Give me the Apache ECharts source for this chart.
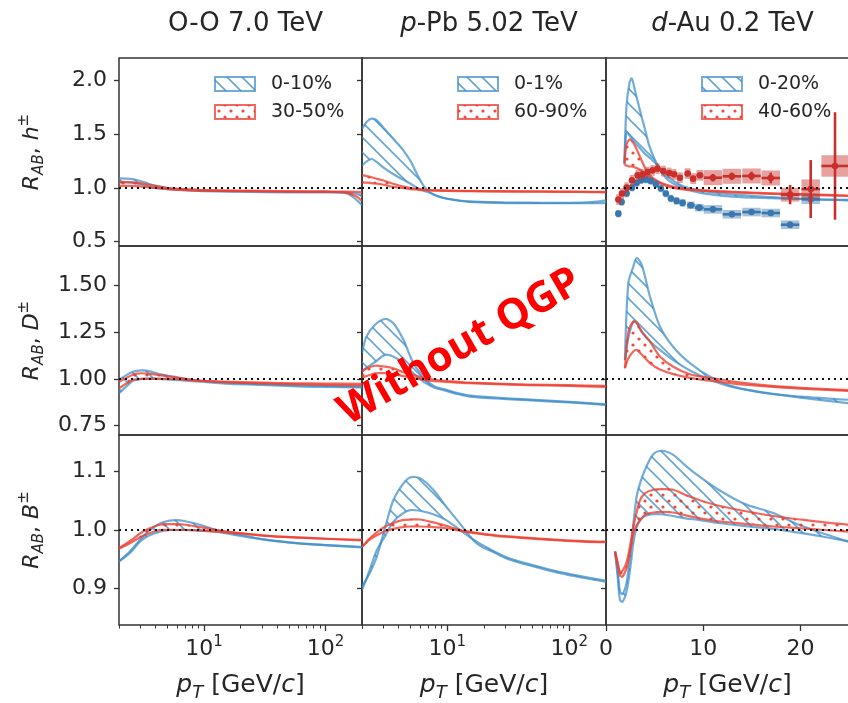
<!DOCTYPE html>
<html><head><meta charset="utf-8">
<script src="https://cdn.jsdelivr.net/npm/echarts@6/dist/echarts.min.js"></script>
<style>html,body{margin:0;padding:0;background:#fff}#c{width:848px;height:703px}</style>
</head><body><div id="c"></div>
<script>
// ---------------- DATA ----------------
const titles = ['{n|O-O 7.0 TeV}', '{i|p}{n|-Pb 5.02 TeV}', '{i|d}{n|-Au 0.2 TeV}'];
const legendBlue = ['0-10%', '0-1%', '0-20%'];
const legendRed = ['30-50%', '60-90%', '40-60%'];
const yTicksH = [0.5, 1.0, 1.5, 2.0];
const yTicksD = [0.75, 1.0, 1.25, 1.5];
const yTicksB = [0.9, 1.0, 1.1];
const xTicksLog = [10, 100];
const xMinorLog = [2, 3, 4, 5, 6, 7, 8, 9, 20, 30, 40, 50, 60, 70, 80, 90, 200];
const xTicksLin = [0, 10, 20];

// Row 1: h±
const ooH_pt = [2, 2.5, 3, 3.5, 4, 5, 7, 10, 20, 50, 100, 150, 180, 200];
const ooH_blueHi = [1.09, 1.085, 1.065, 1.04, 1.02, 1.0, 0.985, 0.975, 0.97, 0.965, 0.963, 0.96, 0.945, 0.93];
const ooH_blueLo = [1.05, 1.05, 1.035, 1.015, 1.0, 0.99, 0.98, 0.97, 0.965, 0.96, 0.958, 0.95, 0.89, 0.84];
const ooH_redHi = [1.06, 1.055, 1.045, 1.03, 1.02, 1.0, 0.99, 0.98, 0.975, 0.97, 0.968, 0.966, 0.963, 0.96];
const ooH_redLo = [1.02, 1.02, 1.015, 1.005, 1.0, 0.99, 0.98, 0.975, 0.97, 0.965, 0.963, 0.955, 0.92, 0.88];

const ppbH_pt = [2, 2.2, 2.4, 2.65, 3, 3.6, 4.3, 5, 5.7, 6.4, 7.2, 8.5, 10, 15, 30, 60, 100, 150, 200];
const ppbH_blueHi = [1.55, 1.62, 1.645, 1.63, 1.56, 1.46, 1.36, 1.25, 1.12, 1.02, 0.96, 0.92, 0.9, 0.875, 0.865, 0.862, 0.862, 0.868, 0.885];
const ppbH_blueLo = [1.21, 1.25, 1.27, 1.24, 1.19, 1.13, 1.08, 1.04, 1.0, 0.975, 0.955, 0.92, 0.9, 0.87, 0.86, 0.858, 0.858, 0.858, 0.86];
const ppbH_redHi = [1.12, 1.11, 1.10, 1.085, 1.07, 1.04, 1.015, 1.0, 0.99, 0.985, 0.98, 0.978, 0.976, 0.973, 0.97, 0.968, 0.966, 0.965, 0.963];
const ppbH_redLo = [1.05, 1.05, 1.045, 1.04, 1.03, 1.01, 1.0, 0.99, 0.985, 0.98, 0.977, 0.975, 0.973, 0.97, 0.967, 0.965, 0.963, 0.962, 0.96];

const dauH_pt = [1.9, 2.1, 2.4, 2.65, 3.0, 3.5, 4.0, 4.5, 5.2, 6.2, 7.6, 9.7, 13, 17, 21, 25];
const dauH_blueHi = [1.24, 1.75, 1.97, 2.02, 1.90, 1.72, 1.55, 1.38, 1.23, 1.09, 1.01, 0.955, 0.92, 0.905, 0.895, 0.89];
const dauH_blueLo = [1.22, 1.52, 1.49, 1.46, 1.42, 1.37, 1.32, 1.28, 1.22, 1.12, 1.03, 0.975, 0.94, 0.915, 0.895, 0.885];
const dauH_redHi = [1.22, 1.40, 1.45, 1.44, 1.39, 1.29, 1.19, 1.12, 1.07, 1.03, 1.0, 0.98, 0.965, 0.95, 0.94, 0.93];
const dauH_redLo = [1.21, 1.21, 1.20, 1.20, 1.19, 1.17, 1.13, 1.10, 1.06, 1.02, 0.99, 0.975, 0.96, 0.945, 0.935, 0.925];

// Row 2: D±
const ooD_pt = [2, 2.3, 2.6, 2.8, 3.1, 3.6, 4.3, 5.6, 7, 9.3, 15, 30, 60, 100, 200];
const ooD_blueHi = [0.995, 1.02, 1.038, 1.043, 1.045, 1.04, 1.025, 1.012, 1.0, 0.99, 0.98, 0.972, 0.965, 0.962, 0.958];
const ooD_blueLo = [0.923, 0.96, 0.99, 0.995, 1.0, 1.003, 1.0, 0.995, 0.99, 0.985, 0.975, 0.968, 0.96, 0.957, 0.955];
const ooD_redHi = [0.985, 1.005, 1.022, 1.028, 1.03, 1.027, 1.02, 1.01, 1.0, 0.99, 0.985, 0.98, 0.976, 0.975, 0.973];
const ooD_redLo = [0.95, 0.975, 0.995, 0.998, 1.0, 1.0, 1.0, 1.0, 0.995, 0.99, 0.982, 0.976, 0.971, 0.968, 0.965];

const ppbD_pt = [2, 2.18, 2.56, 3.09, 3.6, 4.37, 5.26, 6.36, 7.2, 8.1, 9.3, 12, 15.3, 25, 45, 100, 200];
const ppbD_blueHi = [1.138, 1.227, 1.289, 1.32, 1.298, 1.209, 1.084, 1.012, 0.977, 0.955, 0.945, 0.925, 0.91, 0.9, 0.89, 0.877, 0.864];
const ppbD_blueLo = [1.039, 1.06, 1.09, 1.128, 1.12, 1.084, 1.03, 0.985, 0.965, 0.95, 0.94, 0.92, 0.905, 0.895, 0.886, 0.874, 0.861];
const ppbD_redHi = [1.039, 1.055, 1.07, 1.065, 1.057, 1.035, 1.021, 1.005, 1.0, 0.995, 0.99, 0.985, 0.98, 0.975, 0.97, 0.966, 0.962];
const ppbD_redLo = [1.004, 1.015, 1.03, 1.03, 1.025, 1.015, 1.005, 0.995, 0.99, 0.987, 0.985, 0.98, 0.977, 0.972, 0.967, 0.962, 0.957];

const dauD_pt = [1.95, 2.3, 2.81, 3.15, 3.67, 4.52, 5.55, 6.92, 8.63, 10.7, 13.1, 16.5, 20, 25];
const dauD_blueHi = [1.10, 1.513, 1.60, 1.646, 1.61, 1.44, 1.28, 1.17, 1.084, 1.012, 0.959, 0.923, 0.905, 0.888];
const dauD_blueLo = [1.10, 1.22, 1.305, 1.30, 1.25, 1.20, 1.155, 1.10, 1.045, 0.995, 0.955, 0.925, 0.90, 0.87];
const dauD_redHi = [1.057, 1.25, 1.307, 1.30, 1.255, 1.20, 1.12, 1.065, 1.025, 1.005, 0.985, 0.965, 0.952, 0.94];
const dauD_redLo = [1.057, 1.11, 1.146, 1.155, 1.13, 1.084, 1.05, 1.025, 1.005, 0.99, 0.975, 0.96, 0.948, 0.935];

// Row 3: B±
const ooB_pt = [2, 2.5, 2.97, 3.5, 4.34, 5.2, 5.96, 7, 9.3, 12.7, 17.5, 33, 61, 100, 200];
const ooB_blueHi = [0.946, 0.965, 0.983, 0.998, 1.011, 1.016, 1.017, 1.015, 1.009, 1.0, 0.994, 0.983, 0.977, 0.974, 0.970];
const ooB_blueLo = [0.946, 0.962, 0.98, 0.99, 0.997, 1.0, 1.0, 1.0, 0.999, 0.997, 0.992, 0.983, 0.977, 0.974, 0.971];
const ooB_redHi = [0.969, 0.982, 0.994, 1.002, 1.009, 1.01, 1.01, 1.009, 1.005, 1.0, 0.996, 0.99, 0.987, 0.985, 0.983];
const ooB_redLo = [0.968, 0.978, 0.987, 0.994, 1.0, 1.0, 1.0, 1.0, 0.999, 0.997, 0.995, 0.99, 0.987, 0.985, 0.982];

const ppbB_pt = [2, 2.3, 2.64, 3.1, 3.61, 4.3, 4.95, 5.97, 7.68, 9.8, 12.7, 17.4, 25, 32.6, 50, 84, 130, 200];
const ppbB_blueHi = [0.903, 0.925, 0.954, 1.005, 1.051, 1.078, 1.090, 1.089, 1.069, 1.04, 1.011, 0.977, 0.96, 0.949, 0.938, 0.926, 0.918, 0.911];
const ppbB_blueLo = [0.897, 0.93, 0.965, 0.99, 1.014, 1.028, 1.034, 1.033, 1.027, 1.017, 1.0, 0.98, 0.962, 0.951, 0.94, 0.928, 0.92, 0.913];
const ppbB_redHi = [0.971, 0.985, 0.996, 1.006, 1.012, 1.017, 1.018, 1.018, 1.013, 1.007, 1.0, 0.995, 0.991, 0.989, 0.986, 0.983, 0.981, 0.98];
const ppbB_redLo = [0.971, 0.983, 0.991, 0.998, 1.002, 1.005, 1.006, 1.006, 1.005, 1.003, 0.999, 0.994, 0.99, 0.988, 0.985, 0.982, 0.98, 0.979];

const dauB_pt = [0.93, 1.2, 1.44, 1.7, 2.12, 2.5, 2.81, 3.15, 3.5, 4.0, 4.86, 5.72, 6.92, 8.2, 9.66, 11.5, 14.1, 17.2, 20, 22.5, 25];
const dauB_blueHi = [0.963, 0.93, 0.895, 0.89, 0.91, 0.96, 1.01, 1.057, 1.08, 1.103, 1.13, 1.136, 1.129, 1.11, 1.091, 1.07, 1.046, 1.029, 1.008, 0.993, 0.98];
const dauB_blueLo = [0.963, 0.92, 0.88, 0.877, 0.895, 0.935, 0.977, 1.005, 1.016, 1.024, 1.027, 1.027, 1.024, 1.02, 1.017, 1.012, 1.007, 1.002, 0.995, 0.988, 0.98];
const dauB_redHi = [0.963, 0.945, 0.928, 0.93, 0.945, 0.975, 1.005, 1.03, 1.051, 1.063, 1.069, 1.07, 1.069, 1.06, 1.051, 1.042, 1.033, 1.024, 1.018, 1.013, 1.009];
const dauB_redLo = [0.963, 0.94, 0.922, 0.92, 0.935, 0.965, 0.994, 1.008, 1.017, 1.026, 1.03, 1.031, 1.03, 1.025, 1.02, 1.015, 1.011, 1.006, 1.003, 1.0, 0.997];

// d-Au h± measured points
const dataBlue_pt = [1.27, 1.61, 2.12, 2.67, 3.15, 3.6, 4.1, 4.6, 5.14, 5.65, 6.16, 6.68, 7.26, 7.88, 8.73, 9.59, 11.0, 12.95, 14.97, 16.95, 18.94, 21.06];
const dataBlue_R = [0.761, 0.870, 0.948, 1.003, 1.047, 1.072, 1.078, 1.066, 1.035, 0.995, 0.948, 0.902, 0.880, 0.861, 0.839, 0.817, 0.801, 0.755, 0.776, 0.767, 0.658, 0.895];
const dataBlue_xerr = [0.22, 0.22, 0.22, 0.22, 0.22, 0.22, 0.22, 0.22, 0.22, 0.22, 0.22, 0.22, 0.25, 0.3, 0.4, 0.45, 0.95, 0.95, 0.95, 0.95, 0.95, 0.95];
const dataBlue_stat = [0.01, 0.01, 0.01, 0.01, 0.01, 0.01, 0.01, 0.01, 0.01, 0.01, 0.01, 0.01, 0.012, 0.012, 0.014, 0.015, 0.018, 0.02, 0.02, 0.022, 0.03, 0.05];
const dataBlue_sys = [0.035, 0.035, 0.035, 0.035, 0.035, 0.035, 0.035, 0.035, 0.035, 0.035, 0.035, 0.035, 0.035, 0.035, 0.035, 0.035, 0.04, 0.04, 0.04, 0.04, 0.04, 0.045];

const dataRed_pt = [1.27, 1.64, 2.12, 2.67, 3.25, 3.77, 4.28, 4.8, 5.3, 5.9, 6.5, 7.0, 7.6, 8.4, 8.97, 9.66, 11.0, 12.95, 14.97, 16.95, 18.94, 21.06, 23.56];
const dataRed_R = [0.892, 0.948, 1.003, 1.071, 1.117, 1.127, 1.148, 1.164, 1.180, 1.158, 1.14, 1.127, 1.096, 1.134, 1.087, 1.118, 1.096, 1.109, 1.112, 1.093, 0.938, 0.99, 1.205];
const dataRed_xerr = [0.22, 0.22, 0.22, 0.22, 0.22, 0.22, 0.22, 0.22, 0.22, 0.25, 0.25, 0.25, 0.3, 0.3, 0.3, 0.35, 0.95, 0.95, 0.95, 0.95, 0.95, 0.95, 1.4];
const dataRed_stat = [0.015, 0.015, 0.015, 0.015, 0.015, 0.015, 0.015, 0.015, 0.015, 0.015, 0.015, 0.015, 0.02, 0.02, 0.02, 0.02, 0.035, 0.035, 0.04, 0.05, 0.09, 0.27, 0.5];
const dataRed_sys = [0.05, 0.05, 0.05, 0.05, 0.05, 0.05, 0.05, 0.05, 0.05, 0.05, 0.05, 0.05, 0.05, 0.05, 0.05, 0.05, 0.07, 0.07, 0.07, 0.07, 0.065, 0.09, 0.1];

// ---------------- STYLE ----------------
const FONT = 'DejaVu Sans';
const TXT = '#262626';
const AX = '#333333';
const blueLine = 'rgba(60,140,200,0.72)';
const redLine = 'rgba(238,62,48,0.78)';
const bluePt = '#3977ad', redPt = '#c9302c';
const blueBox = 'rgba(57,119,173,0.45)', redBox = 'rgba(201,48,44,0.45)';

const colLeft = [119, 362, 606], colW = [243, 244, 243];
const rowTop = [58, 246, 435], rowH = [188, 189, 190];
const rowMin = [0.46, 0.70, 0.837], rowMax = [2.21, 1.71, 1.163];
const yTicks = [yTicksH, yTicksD, yTicksB];
const yNames = ['{i|R}{sub|AB}{n|, }{i|h}{sup|±}', '{i|R}{sub|AB}{n|, }{i|D}{sup|±}', '{i|R}{sub|AB}{n|, }{i|B}{sup|±}'];
const panels = [
  [ooH_pt, ooH_blueLo, ooH_blueHi, ooH_redLo, ooH_redHi],
  [ppbH_pt, ppbH_blueLo, ppbH_blueHi, ppbH_redLo, ppbH_redHi],
  [dauH_pt, dauH_blueLo, dauH_blueHi, dauH_redLo, dauH_redHi],
  [ooD_pt, ooD_blueLo, ooD_blueHi, ooD_redLo, ooD_redHi],
  [ppbD_pt, ppbD_blueLo, ppbD_blueHi, ppbD_redLo, ppbD_redHi],
  [dauD_pt, dauD_blueLo, dauD_blueHi, dauD_redLo, dauD_redHi],
  [ooB_pt, ooB_blueLo, ooB_blueHi, ooB_redLo, ooB_redHi],
  [ppbB_pt, ppbB_blueLo, ppbB_blueHi, ppbB_redLo, ppbB_redHi],
  [dauB_pt, dauB_blueLo, dauB_blueHi, dauB_redLo, dauB_redHi]
];

function makeHatch(color) {
  const s = 15, cv = document.createElement('canvas');
  cv.width = s; cv.height = s;
  const ctx = cv.getContext('2d');
  ctx.strokeStyle = color; ctx.lineWidth = 1.6;
  [-s, 0, s].forEach(o => { ctx.beginPath(); ctx.moveTo(o - 2, -2); ctx.lineTo(o + s + 2, s + 2); ctx.stroke(); });
  return { image: cv, repeat: 'repeat' };
}
function makeDots(color) {
  const s = 12, cv = document.createElement('canvas');
  cv.width = s; cv.height = s;
  const ctx = cv.getContext('2d');
  ctx.fillStyle = color;
  [[3, 3], [9, 9]].forEach(p => { ctx.beginPath(); ctx.arc(p[0], p[1], 1.6, 0, 2 * Math.PI); ctx.fill(); });
  return { image: cv, repeat: 'repeat' };
}
const pattBlue = makeHatch('rgba(60,140,200,0.78)');
const pattRed = makeDots('rgba(235,55,40,0.9)');

function richSet(fs) {
  const ss = Math.round(fs * 0.7);
  return {
    n: { fontFamily: FONT, fontSize: fs, color: TXT, lineHeight: fs + 8 },
    i: { fontFamily: FONT, fontSize: fs, fontStyle: 'italic', color: TXT, lineHeight: fs + 8 },
    sub: { fontFamily: FONT, fontSize: ss, fontStyle: 'italic', color: TXT, lineHeight: ss - 1, verticalAlign: 'bottom' },
    sup: { fontFamily: FONT, fontSize: ss, color: TXT, lineHeight: ss + 1, verticalAlign: 'top' }
  };
}
const yNameRich = richSet(22);
const xNameRich = richSet(25);
const tickRich = {
  b: { fontFamily: FONT, fontSize: 22, color: TXT, lineHeight: 28 },
  s: { fontFamily: FONT, fontSize: 15, color: TXT, lineHeight: 14, verticalAlign: 'top' }
};
function fmtLog(v) {
  const l = Math.log10(v), e = Math.round(l);
  if (Math.abs(l - e) > 1e-6) return '';
  return '{b|10}{s|' + e + '}';
}
function fmtLin(v) { return '{b|' + Math.round(v) + '}'; }

function bandRender(xs, lo, hi, lineColor, patt) {
  return function (params, api) {
    if (params.dataIndex !== 0) return null;
    const up = xs.map((x, i) => api.coord([x, hi[i]]));
    const dn = xs.map((x, i) => api.coord([x, lo[i]]));
    const poly = up.concat(dn.slice().reverse());
    return {
      type: 'group', children: [
        { type: 'polygon', shape: { points: poly, smooth: 0.3 }, style: { fill: patt, stroke: 'none' } },
        { type: 'polyline', shape: { points: up, smooth: 0.3 }, style: { stroke: lineColor, lineWidth: 2.2, fill: 'none' } },
        { type: 'polyline', shape: { points: dn, smooth: 0.3 }, style: { stroke: lineColor, lineWidth: 2.2, fill: 'none' } }
      ]
    };
  };
}
function pointRender(color, boxColor) {
  return function (params, api) {
    const x = api.value(0), y = api.value(1), xe = api.value(2), ye = api.value(3), sy = api.value(4);
    const c = api.coord([x, y]);
    const b0 = api.coord([x - xe, y + sy]), b1 = api.coord([x + xe, y - sy]);
    const l0 = api.coord([x - xe, y]), l1 = api.coord([x + xe, y]);
    const v0 = api.coord([x, y + ye]), v1 = api.coord([x, y - ye]);
    return {
      type: 'group', children: [
        { type: 'rect', shape: { x: b0[0], y: b0[1], width: b1[0] - b0[0], height: b1[1] - b0[1] }, style: { fill: boxColor } },
        { type: 'line', shape: { x1: l0[0], y1: l0[1], x2: l1[0], y2: l1[1] }, style: { stroke: color, lineWidth: 2.6 } },
        { type: 'line', shape: { x1: v0[0], y1: v0[1], x2: v1[0], y2: v1[1] }, style: { stroke: color, lineWidth: 2.6 } },
        { type: 'circle', shape: { cx: c[0], cy: c[1], r: 3.3 }, style: { fill: color } }
      ]
    };
  };
}

const grids = [], xAxes = [], yAxes = [], series = [];
for (let r = 0; r < 3; r++) {
  for (let c = 0; c < 3; c++) {
    const g = r * 3 + c;
    const isLog = c < 2, bottom = r === 2;
    grids.push({ left: colLeft[c], top: rowTop[r], width: colW[c], height: rowH[r], show: true,
      borderColor: AX, borderWidth: 1.5, backgroundColor: 'rgba(0,0,0,0)', containLabel: false, outerBoundsMode: 'none' });
    xAxes.push({
      type: isLog ? 'log' : 'value', logBase: 10, gridIndex: g, position: 'bottom',
      min: isLog ? 2 : 0, max: isLog ? 200 : 25,
      axisLine: { show: false }, splitLine: { show: false }, minorTick: { show: false },
      axisTick: { show: bottom, customValues: isLog ? xTicksLog : xTicksLin, length: 6, lineStyle: { color: AX, width: 1.3 } },
      axisLabel: { show: bottom, customValues: isLog ? xTicksLog : xTicksLin, formatter: isLog ? fmtLog : fmtLin, rich: tickRich, margin: 10 },
      name: bottom ? '{i|p}{sub|T}{n| [GeV/}{i|c}{n|]}' : '', nameLocation: 'middle', nameGap: 44,
      nameTextStyle: { rich: xNameRich }
    });
    yAxes.push({
      type: 'value', gridIndex: g, min: rowMin[r], max: rowMax[r],
      axisLine: { show: false }, splitLine: { show: false },
      axisTick: { show: true, customValues: yTicks[r], length: 5, lineStyle: { color: AX, width: 1.3 } },
      axisLabel: { show: c === 0, customValues: yTicks[r], formatter: v => v.toFixed(r === 1 ? 2 : 1),
        fontSize: 22, color: TXT, fontFamily: FONT, margin: 12 },
      name: c === 0 ? yNames[r] : '', nameLocation: 'middle', nameGap: 72, nameRotate: 90,
      nameTextStyle: { rich: yNameRich }
    });
    const p = panels[g];
    series.push({ type: 'custom', coordinateSystem: 'cartesian2d', xAxisIndex: g, yAxisIndex: g, clip: true, silent: true, z: 2,
      data: p[0].map((x, i) => [x, p[1][i], p[2][i]]), encode: { x: 0, y: [1, 2] },
      renderItem: bandRender(p[0], p[1], p[2], blueLine, pattBlue) });
    series.push({ type: 'custom', coordinateSystem: 'cartesian2d', xAxisIndex: g, yAxisIndex: g, clip: true, silent: true, z: 2,
      data: p[0].map((x, i) => [x, p[3][i], p[4][i]]), encode: { x: 0, y: [1, 2] },
      renderItem: bandRender(p[0], p[3], p[4], redLine, pattRed) });
    series.push({ type: 'line', xAxisIndex: g, yAxisIndex: g, data: [], silent: true, z: 6,
      markLine: { silent: true, symbol: ['none', 'none'], label: { show: false }, animation: false,
        lineStyle: { color: '#111', type: [2, 4], width: 2 }, data: [{ yAxis: 1 }] } });
  }
}
// minor ticks for the log axes of the bottom row
[6, 7].forEach(g => {
  xAxes.push({ type: 'log', logBase: 10, gridIndex: g, position: 'bottom', min: 2, max: 200,
    axisLine: { show: false }, splitLine: { show: false },
    axisTick: { show: true, customValues: xMinorLog, length: 3.5, lineStyle: { color: AX, width: 1 } },
    axisLabel: { show: false } });
});
// measured points (d-Au, h±)
series.push({ type: 'custom', coordinateSystem: 'cartesian2d', xAxisIndex: 2, yAxisIndex: 2, clip: true, silent: true, z: 4,
  data: dataBlue_pt.map((x, i) => [x, dataBlue_R[i], dataBlue_xerr[i], dataBlue_stat[i], dataBlue_sys[i]]),
  encode: { x: 0, y: 1 }, renderItem: pointRender(bluePt, blueBox) });
series.push({ type: 'custom', coordinateSystem: 'cartesian2d', xAxisIndex: 2, yAxisIndex: 2, clip: true, silent: true, z: 4,
  data: dataRed_pt.map((x, i) => [x, dataRed_R[i], dataRed_xerr[i], dataRed_stat[i], dataRed_sys[i]]),
  encode: { x: 0, y: 1 }, renderItem: pointRender(redPt, redBox) });

const graphics = [];
for (let c = 0; c < 3; c++) {
  const L = colLeft[c];
  graphics.push({ type: 'rect', shape: { x: L + 96, y: 77, width: 40, height: 14 }, style: { fill: pattBlue, stroke: blueLine, lineWidth: 2 }, z: 50 });
  graphics.push({ type: 'rect', shape: { x: L + 96, y: 105, width: 40, height: 14 }, style: { fill: pattRed, stroke: redLine, lineWidth: 2 }, z: 50 });
  graphics.push({ type: 'text', x: L + 152, y: 84, style: { text: legendBlue[c], fill: TXT, font: '19px "DejaVu Sans"', verticalAlign: 'middle', textVerticalAlign: 'middle' }, z: 50 });
  graphics.push({ type: 'text', x: L + 152, y: 112, style: { text: legendRed[c], fill: TXT, font: '19px "DejaVu Sans"', verticalAlign: 'middle', textVerticalAlign: 'middle' }, z: 50 });
}
graphics.push({ type: 'text', x: 460, y: 347, rotation: 30 * Math.PI / 180, z: 100,
  style: { text: 'Without QGP', fill: '#ff0000', font: 'bold 42px "Open Sans"', align: 'center', verticalAlign: 'middle', textAlign: 'center', textVerticalAlign: 'middle' } });

const titleRich = {
  n: { fontFamily: FONT, fontSize: 26, color: TXT },
  i: { fontFamily: FONT, fontSize: 26, color: TXT, fontStyle: 'italic' }
};
const option = {
  animation: false,
  backgroundColor: '#fff',
  title: titles.map((t, c) => ({ text: t, left: colLeft[c] + colW[c] / 2, top: 6, textAlign: 'center',
    textStyle: { fontFamily: FONT, fontSize: 26, fontWeight: 'normal', color: TXT, rich: titleRich } })),
  grid: grids, xAxis: xAxes, yAxis: yAxes, series: series, graphic: graphics
};
const chart = echarts.init(document.getElementById('c'), null, { renderer: 'canvas' });
chart.setOption(option);
</script></body></html>
